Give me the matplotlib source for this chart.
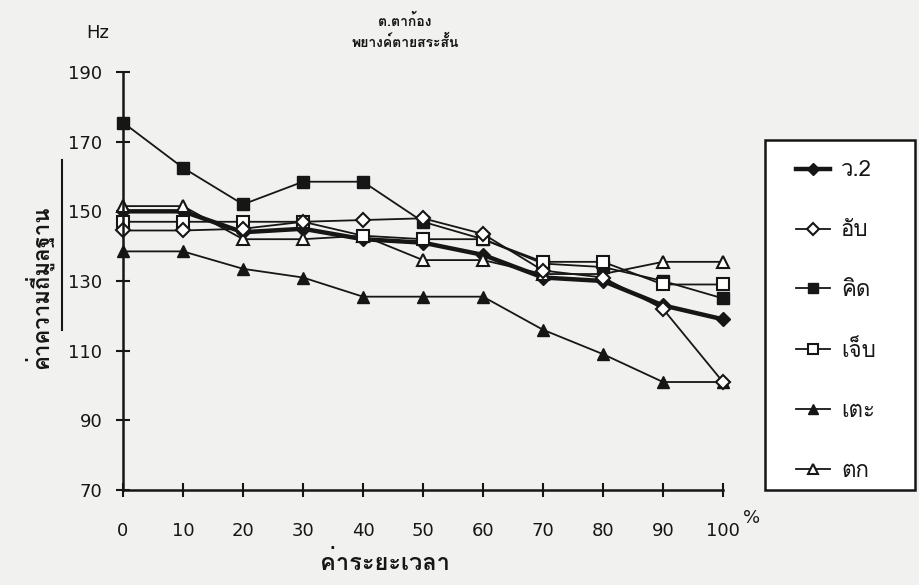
import matplotlib
matplotlib.use('Agg')
import matplotlib.pyplot as plt
from matplotlib import font_manager
from matplotlib.ft2font import FT2Font
from matplotlib.lines import Line2D
from matplotlib.patches import Rectangle

# ---------------- data ----------------
x_pct = [0, 10, 20, 30, 40, 50, 60, 70, 80, 90, 100]
series_names = ["ว.2", "อับ", "คิด", "เจ็บ", "เตะ", "ตก"]
v_w2   = [150, 150, 144, 145, 142, 141, 137.5, 131, 130, 123, 119]
v_ab   = [144.5, 144.5, 145, 147, 147.5, 148, 143.5, 133, 131, 122, 101]
v_kit  = [175.5, 162.5, 152, 158.5, 158.5, 147, 142, 135, 134, 130, 125]
v_jep  = [147, 147, 147, 147, 143, 142, 142, 135.5, 135.5, 129, 129]
v_te   = [138.5, 138.5, 133.5, 131, 125.5, 125.5, 125.5, 116, 109, 101, 101]
v_tok  = [151.5, 151.5, 142, 142, 143, 136, 136, 132, 132, 135.5, 135.5]
y_ticks = [70, 90, 110, 130, 150, 170, 190]
x_ticks = [0, 10, 20, 30, 40, 50, 60, 70, 80, 90, 100]
title_lines = ["ต.ตาก้อง", "พยางค์ตายสระสั้น"]
x_label = "ค่าระยะเวลา"
y_label = "ค่าความถี่มูลฐาน"


def find_thai_font():
    for f in font_manager.fontManager.ttflist:
        try:
            ft = FT2Font(f.fname)
            if 0x0E01 in ft.get_charmap():
                return f.name
        except Exception:
            pass
    return None

thai = find_thai_font()
fams = ([thai] if thai else []) + ['DejaVu Sans']
plt.rcParams['font.family'] = fams
num_font = 'DejaVu Sans'

W, H = 919, 585
fig = plt.figure(figsize=(W / 100, H / 100), dpi=100)
bg = '#f1f1ef'
fig.patch.set_facecolor(bg)
ink = '#161616'

ax = fig.add_axes([123 / W, 1 - 490 / H, (723 - 123) / W, (490 - 72) / H])
ax.set_facecolor(bg)
ax.set_xlim(0, 100)
ax.set_ylim(70, 190)
for s in ['top', 'right']:
    ax.spines[s].set_visible(False)
for s in ['left', 'bottom']:
    ax.spines[s].set_linewidth(1.8)
    ax.spines[s].set_color(ink)
ax.set_xticks(x_ticks)
ax.set_yticks(y_ticks)
ax.set_xticklabels([str(t) for t in x_ticks], fontsize=13, color=ink, family=num_font)
ax.set_yticklabels([str(t) for t in y_ticks], fontsize=13, color=ink, family=num_font)
ax.tick_params(direction='inout', length=10, width=1.5, color=ink)
ax.tick_params(axis='x', pad=18)
ax.tick_params(axis='y', pad=10)

ms = 8
lw = 1.3
ax.plot(x_pct, v_te, color=ink, lw=lw, marker='^', ms=ms, mfc=ink, mec=ink, label=series_names[4], clip_on=False)
ax.plot(x_pct, v_kit, color=ink, lw=lw, marker='s', ms=ms, mfc=ink, mec=ink, label=series_names[2], clip_on=False)
ax.plot(x_pct, v_w2, color=ink, lw=3.2, marker='D', ms=7, mfc=ink, mec=ink, label=series_names[0], clip_on=False)
ax.plot(x_pct, v_tok, color=ink, lw=lw, marker='^', ms=ms, mfc='white', mec=ink, mew=1.5, label=series_names[5], clip_on=False)
ax.plot(x_pct, v_jep, color=ink, lw=lw, marker='s', ms=ms, mfc='white', mec=ink, mew=1.5, label=series_names[3], clip_on=False)
ax.plot(x_pct, v_ab, color=ink, lw=lw, marker='D', ms=7, mfc='white', mec=ink, mew=1.5, label=series_names[1], clip_on=False)

# legend box
fig.add_artist(Rectangle((765 / W, 1 - 490 / H), 150 / W, 350 / H, transform=fig.transFigure,
                         facecolor='white', edgecolor=ink, lw=1.8, zorder=1))
handles, labels = ax.get_legend_handles_labels()
order = [labels.index(n) for n in series_names]
leg = fig.legend([handles[i] for i in order], [labels[i] for i in order],
                 loc='upper left', bbox_to_anchor=(772 / W, 1 - 136 / H),
                 frameon=False, fontsize=16, handlelength=1.5, handletextpad=0.5,
                 labelspacing=1.75, borderpad=0.6, markerscale=0.85)
leg.set_zorder(2)
for t in leg.get_texts():
    t.set_color(ink)

# texts
fig.text(98 / W, 1 - 33 / H, "Hz", fontsize=13, color=ink, ha='center', va='center', family=num_font)
fig.text(405 / W, 1 - 21 / H, title_lines[0], fontsize=10, fontweight='bold', color=ink, ha='center', va='center')
fig.text(405 / W, 1 - 42 / H, title_lines[1], fontsize=10, fontweight='bold', color=ink, ha='center', va='center')
fig.text(752 / W, 1 - 518 / H, "%", fontsize=13, color=ink, ha='center', va='center', family=num_font)
fig.text(385 / W, 1 - 563 / H, x_label, fontsize=17, fontweight='bold', color=ink, ha='center', va='center')
fig.text(38 / W, 1 - 287 / H, y_label, fontsize=16, fontweight='bold', color=ink, rotation=90,
         ha='center', va='center')
fig.add_artist(Line2D([62 / W, 62 / W], [1 - 160 / H, 1 - 330 / H], color=ink, lw=1.5,
                      transform=fig.transFigure))

fig.savefig('out.png', dpi=100, facecolor=bg)
